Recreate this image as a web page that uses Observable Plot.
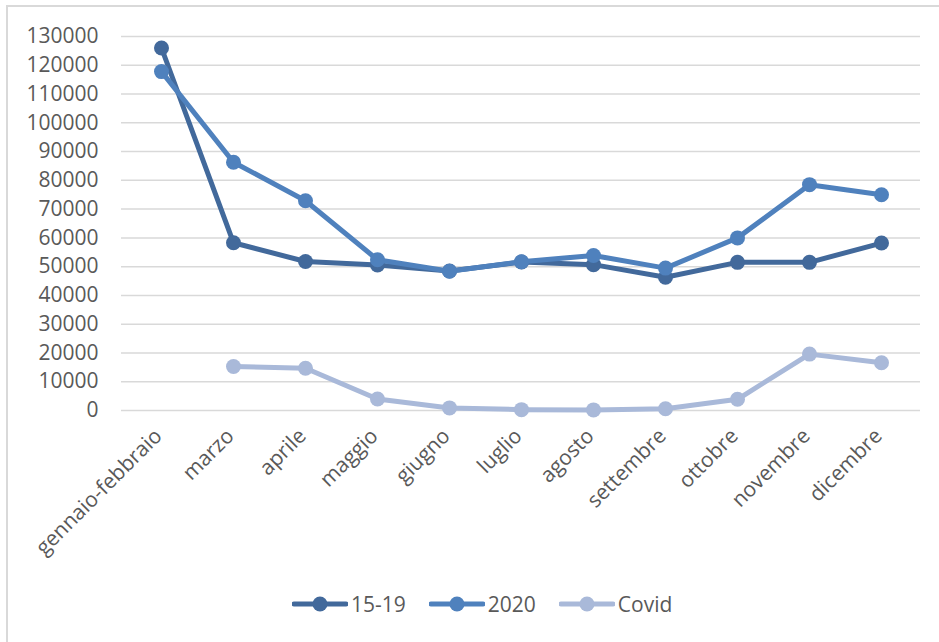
<!DOCTYPE html>
<html>
<head>
<meta charset="utf-8">
<script src="https://cdn.jsdelivr.net/npm/d3@7"></script>
<script src="https://cdn.jsdelivr.net/npm/@observablehq/plot@0.6"></script>
<style>
  html, body { margin: 0; padding: 0; background: #fff; }
  #wrap { position: relative; width: 939px; height: 642px; overflow: hidden; font-family: "Open Sans", sans-serif; color: #595959; }
  #frame { position: absolute; left: 6px; top: 5px; width: 940px; height: 640px; border-top: 2px solid #d9d9d9; border-left: 2px solid #d9d9d9; }
  #chart { position: absolute; left: 0; top: 0; }
  #legend { position: absolute; left: 292px; top: 590px; display: flex; align-items: center; font-size: 21px; }
  .item { display: flex; align-items: center; margin-right: 23px; }
  .item svg { margin-right: 3px; }
</style>
</head>
<body>
<div id="wrap">
  <div id="frame"></div>
  <div id="chart"></div>
  <div id="legend"></div>
</div>
<script>
// Mesi (gennaio e febbraio accorpati)
const categories = ["gennaio-febbraio", "marzo", "aprile", "maggio", "giugno", "luglio",
  "agosto", "settembre", "ottobre", "novembre", "dicembre"];

// Decessi: media 2015-2019, anno 2020, decessi Covid
const serie1519 = [126000, 58300, 51800, 50600, 48500, 51600, 50700, 46300, 51500, 51500, 58200];
const serie2020 = [117800, 86300, 72900, 52400, 48400, 51700, 53900, 49500, 60000, 78500, 75000];
const serieCovid = [null, 15300, 14700, 4000, 900, 300, 200, 600, 3900, 19600, 16600];

const seriesNames = ["15-19", "2020", "Covid"];
const seriesColors = ["#42699b", "#4f81bd", "#a9b9d9"];
const yTicks = [0, 10000, 20000, 30000, 40000, 50000, 60000, 70000, 80000, 90000, 100000, 110000, 120000, 130000];

const allValues = [serie1519, serie2020, serieCovid];
const rows = [];
allValues.forEach((vals, s) => {
  vals.forEach((v, i) => {
    if (v != null) rows.push({ mese: categories[i], valore: v, serie: seriesNames[s] });
  });
});

const marks = [
  Plot.gridY(yTicks, { stroke: "#d9d9d9", strokeOpacity: 1, strokeWidth: 1.5 }),
  Plot.axisY(yTicks, { tickSize: 0, tickPadding: 23, tickFormat: d => String(d), fontSize: 21 }),
  Plot.axisX({ tickSize: 0, tickPadding: 10, tickRotate: -45, fontSize: 21, dx: -3, dy: 12 })
];
seriesNames.forEach((name, s) => {
  const data = rows.filter(r => r.serie === name);
  marks.push(Plot.line(data, { x: "mese", y: "valore", stroke: seriesColors[s], strokeWidth: 5, strokeLinejoin: "round" }));
  marks.push(Plot.dot(data, { x: "mese", y: "valore", fill: seriesColors[s], r: 7.5 }));
});

const chart = Plot.plot({
  width: 939,
  height: 580,
  marginLeft: 121,
  marginRight: 19,
  marginTop: 36,
  marginBottom: 170,
  style: { fontFamily: "Open Sans, sans-serif", fontSize: "21px", color: "#595959", background: "transparent" },
  x: { type: "point", domain: categories, padding: 0.5, label: null },
  y: { domain: [0, 130000], label: null },
  marks
});
document.getElementById("chart").appendChild(chart);

// Legenda
const legend = d3.select("#legend");
seriesNames.forEach((name, s) => {
  const item = legend.append("div").attr("class", "item");
  const svg = item.append("svg").attr("width", 56).attr("height", 20);
  svg.append("line").attr("x1", 2).attr("x2", 54).attr("y1", 10).attr("y2", 10)
    .attr("stroke", seriesColors[s]).attr("stroke-width", 5).attr("stroke-linecap", "round");
  svg.append("circle").attr("cx", 28).attr("cy", 10).attr("r", 7.5).attr("fill", seriesColors[s]);
  item.append("span").text(name);
});
</script>
</body>
</html>
